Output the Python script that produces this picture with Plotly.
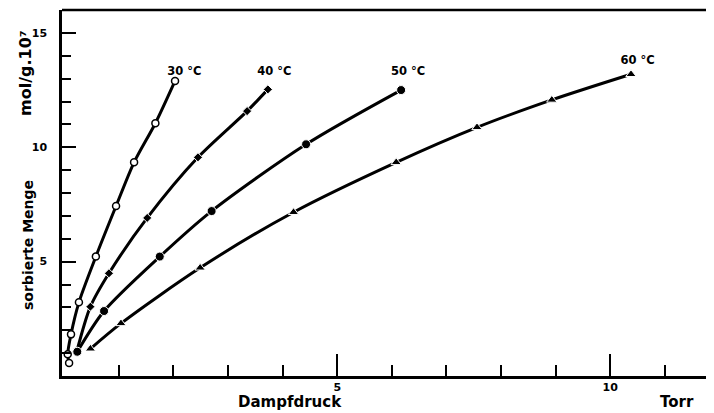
import plotly.graph_objects as go

# Data (Dampfdruck in Torr, sorbierte Menge in mol/g·10^7)
x30 = [0.09, 0.065, 0.125, 0.27, 0.58, 0.95, 1.28, 1.67, 2.03]
y30 = [0.57, 0.95, 1.82, 3.22, 5.22, 7.43, 9.34, 11.05, 12.90]

x40 = [0.23, 0.48, 0.82, 1.52, 2.45, 3.35, 3.73]
y40 = [1.06, 3.03, 4.49, 6.91, 9.56, 11.58, 12.53]

x50 = [0.24, 0.73, 1.75, 2.70, 4.43, 6.17]
y50 = [1.06, 2.84, 5.22, 7.21, 10.13, 12.50]

x60 = [0.48, 1.04, 2.49, 4.20, 6.08, 7.56, 8.93, 10.38]
y60 = [1.19, 2.30, 4.73, 7.16, 9.34, 10.87, 12.07, 13.19]

labels = ["30 °C", "40 °C", "50 °C", "60 °C"]
label_x = [2.2, 3.85, 6.3, 10.5]
label_y = [13.29, 13.29, 13.29, 13.78]

FONT = "DejaVu Sans"

fig = go.Figure()

series = [
    (x30, y30, dict(symbol="circle", size=7, color="white", line=dict(color="black", width=1.5))),
    (x40, y40, dict(symbol="diamond", size=7, color="black", line=dict(color="white", width=1))),
    (x50, y50, dict(symbol="circle", size=9, color="black", line=dict(color="white", width=1))),
    (x60, y60, dict(symbol="triangle-up", size=9, color="black", line=dict(color="white", width=1))),
]
for xs, ys, mk in series:
    fig.add_trace(go.Scatter(
        x=xs, y=ys, mode="lines+markers",
        line=dict(color="black", width=3, shape="spline", smoothing=0.8),
        marker=mk, showlegend=False, hoverinfo="skip",
    ))

fig.add_trace(go.Scatter(
    x=label_x, y=label_y, mode="text", text=labels,
    textfont=dict(family=FONT, size=11.5, color="black", weight="bold"),
    showlegend=False, hoverinfo="skip",
))

fig.update_xaxes(
    range=[-0.04, 11.9], showgrid=False, zeroline=False, automargin=False,
    showline=True, linecolor="black", linewidth=2.5,
    tickmode="array", tickvals=[5, 10], ticktext=["5", "10"],
    ticks="inside", ticklen=22, tickwidth=2, tickcolor="black",
    minor=dict(tickmode="array", tickvals=[1, 2, 3, 4, 6, 7, 8, 9, 11],
               ticks="inside", ticklen=11, tickwidth=2, tickcolor="black"),
    tickfont=dict(family=FONT, size=11, color="black", weight="bold"),
    ticklabelstandoff=-1,
)
fig.update_yaxes(
    range=[0, 16], showgrid=False, zeroline=False, automargin=False,
    showline=True, linecolor="black", linewidth=2.5,
    tickmode="array", tickvals=[5, 10, 15], ticktext=["5", "10", "15"],
    ticks="inside", ticklen=14, tickwidth=2, tickcolor="black",
    minor=dict(tickmode="array", tickvals=[1, 2, 3, 4, 6, 7, 8, 9, 11, 12, 13, 14, 16],
               ticks="inside", ticklen=9, tickwidth=2, tickcolor="black"),
    tickfont=dict(family=FONT, size=11, color="black", weight="bold"),
    ticklabelstandoff=10,
)

# top border line
fig.add_shape(type="line", xref="paper", yref="paper", x0=0, x1=1, y0=1, y1=1,
              line=dict(color="black", width=2.5))

# Page body has an 8px default margin: plot area spans screen x 62..714, y 10..376
common = dict(xref="paper", yref="paper", showarrow=False, xanchor="center", yanchor="middle")
fig.add_annotation(text="Dampfdruck", x=(290 - 62) / 652, y=(376 - 402) / 366,
                   font=dict(family=FONT, size=15, color="black", weight="bold"), **common)
fig.add_annotation(text="Torr", x=(677 - 62) / 652, y=(376 - 402) / 366,
                   font=dict(family=FONT, size=15, color="black", weight="bold"), **common)
fig.add_annotation(text="sorbierte Menge", x=(28 - 62) / 652, y=(376 - 245) / 366,
                   textangle=-90, font=dict(family=FONT, size=14, color="black", weight="bold"), **common)
fig.add_annotation(text="mol/g.10⁷", x=(26 - 62) / 652, y=(376 - 73) / 366,
                   textangle=-90, font=dict(family=FONT, size=16, color="black", weight="bold"), **common)

fig.update_layout(
    width=706, height=405,
    margin=dict(l=54, r=0, t=2, b=37),
    plot_bgcolor="white", paper_bgcolor="white",
)

fig.write_html("out.html")
